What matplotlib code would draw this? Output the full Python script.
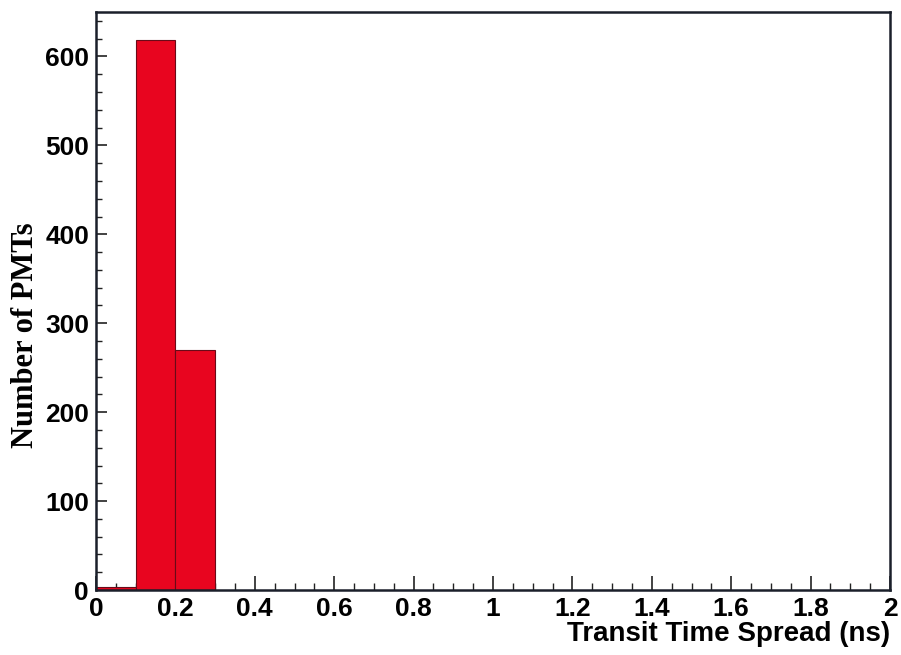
import matplotlib
matplotlib.use("Agg")
import matplotlib.pyplot as plt
from matplotlib.ticker import MultipleLocator
import numpy as np

# histogram of transit time spread
bin_edges = [0.0, 0.1, 0.2, 0.3]
counts = [3, 618, 270]

fig = plt.figure(figsize=(9.01, 6.55), dpi=100)
ax = fig.add_axes([96/901, 1 - 590/655, (890-96)/901, (590-12)/655])

ax.bar(bin_edges[:-1], counts, width=np.diff(bin_edges), align="edge",
       color="#e8051f", edgecolor="#6a0a18", linewidth=0.8, zorder=2)

ax.set_xlim(0, 2)
ax.set_ylim(0, 650)
ax.xaxis.set_major_locator(MultipleLocator(0.2))
ax.xaxis.set_minor_locator(MultipleLocator(0.05))
ax.yaxis.set_major_locator(MultipleLocator(100))
ax.yaxis.set_minor_locator(MultipleLocator(20))
ax.set_xticks(np.arange(0, 2.01, 0.2))
ax.set_xticklabels(["0", "0.2", "0.4", "0.6", "0.8", "1", "1.2", "1.4", "1.6", "1.8", "2"])

ax.tick_params(which="both", direction="in", colors="#222", labelcolor="black")
ax.tick_params(axis="x", which="major", length=10, width=1.2, pad=5)
ax.tick_params(axis="x", which="minor", length=5, width=1.0)
ax.tick_params(axis="y", which="major", length=8, width=1.2, pad=5)
ax.tick_params(axis="y", which="minor", length=4, width=1.0)

for lab in ax.get_xticklabels() + ax.get_yticklabels():
    lab.set_fontfamily("Liberation Sans")
    lab.set_fontweight("bold")
    lab.set_fontsize(19)

for s in ax.spines.values():
    s.set_linewidth(1.8)
    s.set_color("#1a1f2a")

ax.set_xlabel("Transit Time Spread (ns)", fontfamily="Liberation Sans",
              fontweight="bold", fontsize=20, loc="right", labelpad=0)
ax.set_ylabel("Number of PMTs", fontfamily="Liberation Serif",
              fontweight="bold", fontsize=22)
ax.yaxis.set_label_coords(-0.071, 0.44)

fig.savefig("out.png", dpi=100)
